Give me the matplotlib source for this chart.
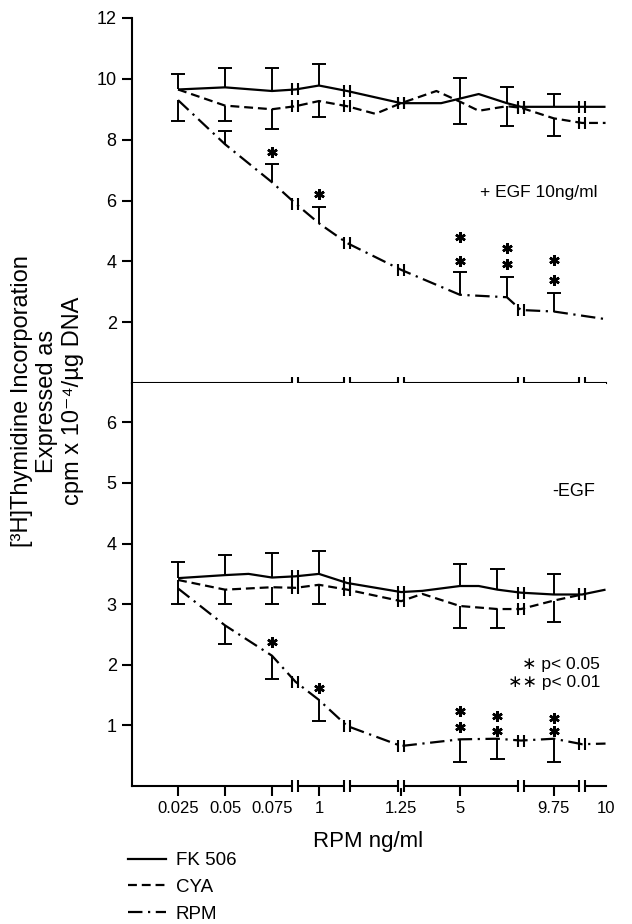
import numpy as np
import matplotlib.pyplot as plt
from matplotlib.path import Path
from matplotlib.lines import Line2D

plt.rcParams['font.family'] = ['Liberation Sans', 'DejaVu Sans']

# x positions are slots along the broken dose axis
breaks = [2.5, 3.6, 4.75, 7.3, 8.6]
tick_pos = [0, 1, 2, 3, 4.75, 6, 8, 9.1]
tick_labels = ['0.025', '0.05', '0.075', '1', '1.25', '5', '9.75', '10']

# + EGF panel
top_fk_x = [0, 1, 2, 2.5, 3, 3.6, 4.75, 5.6, 6, 6.4, 7, 7.3, 8, 8.6, 9.1]
top_fk_y = [9.65, 9.72, 9.6, 9.65, 9.78, 9.6, 9.2, 9.2, 9.35, 9.5, 9.2, 9.08, 9.08, 9.08, 9.08]
top_cya_x = [0, 1, 2, 2.5, 3, 3.6, 4.2, 4.75, 5.5, 6, 6.4, 7, 7.3, 8, 8.6, 9.1]
top_cya_y = [9.65, 9.12, 9.0, 9.1, 9.27, 9.1, 8.85, 9.2, 9.6, 9.25, 8.95, 9.1, 9.05, 8.7, 8.55, 8.55]
top_rpm_x = [0, 1, 2, 2.5, 3, 3.6, 4.75, 6, 7, 7.3, 8, 9.1]
top_rpm_y = [9.3, 7.85, 6.6, 5.9, 5.25, 4.6, 3.72, 2.9, 2.82, 2.4, 2.35, 2.1]

top_fk_err_x = [0, 1, 2, 3, 6, 7, 8]
top_fk_err = [10.17, 10.36, 10.34, 10.49, 10.03, 9.72, 9.5]
top_cya_err_x = [1, 2, 3, 6, 7, 8]
top_cya_err = [8.6, 8.35, 8.75, 8.5, 8.46, 8.13]
top_rpm_err_x = [0, 1, 2, 3, 6, 7, 8]
top_rpm_err = [8.6, 8.3, 7.2, 5.78, 3.65, 3.5, 2.96]

top_star_x = [2, 3, 6, 6, 7, 7, 8, 8]
top_star_y = [7.6, 6.2, 4.8, 4.02, 4.45, 3.9, 4.03, 3.4]

# - EGF panel
bot_fk_x = [0, 1, 1.5, 2, 2.5, 3, 3.6, 4.75, 5.2, 6, 6.4, 6.8, 7.3, 8, 8.6, 9.1]
bot_fk_y = [3.43, 3.48, 3.5, 3.44, 3.46, 3.5, 3.35, 3.2, 3.22, 3.3, 3.3, 3.24, 3.19, 3.16, 3.16, 3.24]
bot_cya_x = [0, 1, 2, 2.5, 3, 3.6, 4.75, 5.2, 6, 6.8, 7.3, 8, 8.6]
bot_cya_y = [3.4, 3.24, 3.28, 3.27, 3.32, 3.24, 3.05, 3.17, 2.97, 2.92, 2.92, 3.06, 3.16]
bot_rpm_x = [0, 1, 2, 2.5, 3, 3.6, 4.75, 6, 6.8, 7.3, 8, 8.6, 9.1]
bot_rpm_y = [3.26, 2.65, 2.15, 1.72, 1.42, 0.99, 0.66, 0.77, 0.78, 0.75, 0.78, 0.69, 0.7]

bot_fk_err_x = [0, 1, 2, 3, 6, 6.8, 8]
bot_fk_err = [3.7, 3.82, 3.84, 3.88, 3.66, 3.58, 3.5]
bot_cya_err_x = [0, 1, 2, 3, 6, 6.8, 8]
bot_cya_err = [3.0, 3.0, 3.0, 3.0, 2.6, 2.6, 2.7]
bot_rpm_err_x = [1, 2, 3, 6, 6.8, 8]
bot_rpm_err = [2.35, 1.77, 1.07, 0.4, 0.45, 0.4]

bot_star_x = [2, 3, 6, 6, 6.8, 6.8, 8, 8]
bot_star_y = [2.38, 1.61, 1.23, 0.97, 1.15, 0.91, 1.12, 0.9]

styles = {'FK 506': '-', 'CYA': (0, (4, 2.2)), 'RPM': (0, (6.5, 2.5, 1, 2.5))}
lw = 1.6
cap = 0.15

# two short vertical bars = axis break mark
brk = Path([(-0.45, -1), (-0.45, 1), (0.45, -1), (0.45, 1)],
           [Path.MOVETO, Path.LINETO, Path.MOVETO, Path.LINETO])

W, H = 632, 924
fig = plt.figure(figsize=(W / 100, H / 100), dpi=100)
ax_top = fig.add_axes([132 / W, 1 - 383 / H, 474 / W, 365 / H])
ax_bot = fig.add_axes([132 / W, 1 - 786 / H, 474 / W, 403 / H])


def draw_series(ax, xs, ys, style):
    ax.plot(xs, ys, color='k', lw=lw, ls=style, solid_capstyle='butt')
    idx = [i for i, x in enumerate(xs) if x in breaks]
    ax.plot(np.array(xs)[idx], np.array(ys)[idx], ls='none', marker=brk,
            ms=9, mew=1.5, mec='k', zorder=4)


def draw_err(ax, xs, ys, ex, ends):
    base = np.interp(ex, xs, ys)
    ax.vlines(ex, base, ends, color='k', lw=1.4)
    ax.hlines(ends, np.array(ex) - cap, np.array(ex) + cap, color='k', lw=1.4)


for ax, series, errs, stars in [
    (ax_top,
     [(top_fk_x, top_fk_y, 'FK 506'), (top_cya_x, top_cya_y, 'CYA'), (top_rpm_x, top_rpm_y, 'RPM')],
     [(top_fk_x, top_fk_y, top_fk_err_x, top_fk_err),
      (top_cya_x, top_cya_y, top_cya_err_x, top_cya_err),
      (top_rpm_x, top_rpm_y, top_rpm_err_x, top_rpm_err)],
     (top_star_x, top_star_y)),
    (ax_bot,
     [(bot_fk_x, bot_fk_y, 'FK 506'), (bot_cya_x, bot_cya_y, 'CYA'), (bot_rpm_x, bot_rpm_y, 'RPM')],
     [(bot_fk_x, bot_fk_y, bot_fk_err_x, bot_fk_err),
      (bot_cya_x, bot_cya_y, bot_cya_err_x, bot_cya_err),
      (bot_rpm_x, bot_rpm_y, bot_rpm_err_x, bot_rpm_err)],
     (bot_star_x, bot_star_y)),
]:
    for xs, ys, name in series:
        draw_series(ax, xs, ys, styles[name])
    for xs, ys, ex, ends in errs:
        draw_err(ax, xs, ys, ex, ends)
    ax.plot(stars[0], stars[1], ls='none', marker=(6, 2, 0), ms=7.5, mew=1.8, color='k')

    ax.set_xlim(-0.98, 9.11)
    for s in ['top', 'right']:
        ax.spines[s].set_visible(False)
    for s in ['left', 'bottom']:
        ax.spines[s].set_linewidth(1.5)
    ax.tick_params(width=1.5, length=7, labelsize=13, pad=4)

    # break marks on the horizontal axis line
    ax.hlines(np.zeros(len(breaks)), np.array(breaks) - 0.06, np.array(breaks) + 0.06,
              color='white', lw=3, zorder=3, clip_on=False)
    ax.plot(breaks, np.zeros(len(breaks)), ls='none', marker=brk, ms=9, mew=1.5,
            mec='k', zorder=4, clip_on=False)

ax_top.set_ylim(0, 12)
ax_top.set_yticks([2, 4, 6, 8, 10, 12])
ax_top.set_xticks([])

ax_bot.set_ylim(0, 6.65)
ax_bot.set_yticks([1, 2, 3, 4, 5, 6])
ax_bot.set_xticks(tick_pos)
ax_bot.set_xticklabels(tick_labels, fontsize=12)
ax_bot.xaxis.get_major_ticks()[-1].tick1line.set_visible(False)

fig.text(598 / W, 1 - 192 / H, '+ EGF 10ng/ml', ha='right', va='center', fontsize=12.5)
fig.text(595 / W, 1 - 492 / H, '-EGF', ha='right', va='center', fontsize=13)
fig.text(600 / W, 1 - 664 / H, '\u2217 p< 0.05', ha='right', va='center', fontsize=12.5)
fig.text(600 / W, 1 - 683 / H, '\u2217\u2217 p< 0.01', ha='right', va='center', fontsize=12.5)

fig.text(368 / W, 1 - 842 / H, 'RPM ng/ml', ha='center', va='center', fontsize=16)

ylab = ['[\u00b3H]Thymidine Incorporation', 'Expressed as', 'cpm x 10\u207b\u2074/\u00b5g DNA']
for i, t in enumerate(ylab):
    fig.text((22 + 25.5 * i) / W, 1 - 401 / H, t, rotation=90, ha='center', va='center',
             fontsize=17)

handles = [Line2D([], [], color='k', lw=lw, ls=styles[k]) for k in styles]
fig.legend(handles, list(styles), loc='upper left', bbox_to_anchor=(128 / W, 1 - 852 / H),
           frameon=False, handlelength=2.0, handletextpad=0.55, labelspacing=0.52,
           fontsize=13.5, borderpad=0, borderaxespad=0)

fig.savefig('out.png', dpi=100)
